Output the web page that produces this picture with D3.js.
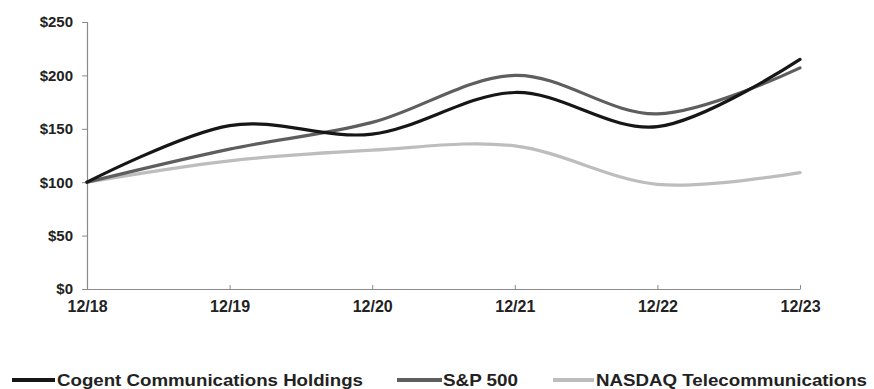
<!DOCTYPE html>
<html><head><meta charset="utf-8">
<script src="https://cdn.jsdelivr.net/npm/d3@7"></script>
<style>body{margin:0;background:#fff}svg{display:block}</style>
</head><body>
<svg id="c" width="874" height="389"></svg>
<script>
const categories = ["12/18","12/19","12/20","12/21","12/22","12/23"];
const cogent = [100, 153, 145, 184, 152, 215];
const sp500 = [100, 131, 156, 200, 164, 207];
const nasdaqTel = [100, 120, 130, 134, 98, 109];
const yTicks = [0, 50, 100, 150, 200, 250];
const seriesNames = ["Cogent Communications Holdings", "S&P 500", "NASDAQ Telecommunications"];
const seriesColors = ["#161616", "#5e5e5e", "#bdbdbd"];
const seriesData = [cogent, sp500, nasdaqTel];

const svg = d3.select("#c");
const x = d3.scalePoint().domain(categories).range([87, 800]);
const y = d3.scaleLinear().domain([0, 250]).range([289, 22]);
const font = "'Liberation Sans', Arial, sans-serif";

// y axis
const ya = svg.append("g").attr("transform", "translate(87,0)")
  .call(d3.axisLeft(y).tickValues(yTicks).tickFormat(d => "$" + d).tickSize(5).tickPadding(9));
ya.select(".domain").attr("stroke", "#8a8a8a").attr("stroke-width", 1.2);
ya.selectAll(".tick line").attr("stroke", "#8a8a8a");
ya.selectAll("text").attr("font-family", font).attr("font-weight", "bold").attr("font-size", 15).attr("fill", "#222");

// x axis
const xa = svg.append("g").attr("transform", "translate(0,289)")
  .call(d3.axisBottom(x).tickSize(-4).tickSizeOuter(0).tickPadding(12));
xa.select(".domain").attr("stroke", "#8a8a8a").attr("stroke-width", 1.2);
xa.selectAll(".tick line").attr("stroke", "#8a8a8a");
xa.selectAll("text").attr("font-family", font).attr("font-weight", "bold").attr("font-size", 16).attr("fill", "#222");

const line = d3.line().x((d, i) => x(categories[i])).y(d => y(d)).curve(d3.curveCardinal.tension(0));
[2, 1, 0].forEach(k => {
  svg.append("path").datum(seriesData[k]).attr("d", line)
    .attr("fill", "none").attr("stroke", seriesColors[k]).attr("stroke-width", 3.2)
    .attr("stroke-linecap", "round");
});

// legend
const legLine = [[12, 55], [397, 442], [553, 594]];
const legText = [[57, 363], [443, 518], [596, 867]];
const lg = svg.append("g");
seriesNames.forEach((n, i) => {
  lg.append("line").attr("x1", legLine[i][0]).attr("x2", legLine[i][1]).attr("y1", 380).attr("y2", 380)
    .attr("stroke", seriesColors[i]).attr("stroke-width", 4);
  lg.append("text").attr("x", legText[i][0]).attr("y", 385.5).text(n)
    .attr("font-family", font)
    .attr("font-weight", "bold").attr("font-size", 17).attr("fill", "#222")
    .attr("textLength", legText[i][1] - legText[i][0]).attr("lengthAdjust", "spacingAndGlyphs");
});
</script>
</body></html>
